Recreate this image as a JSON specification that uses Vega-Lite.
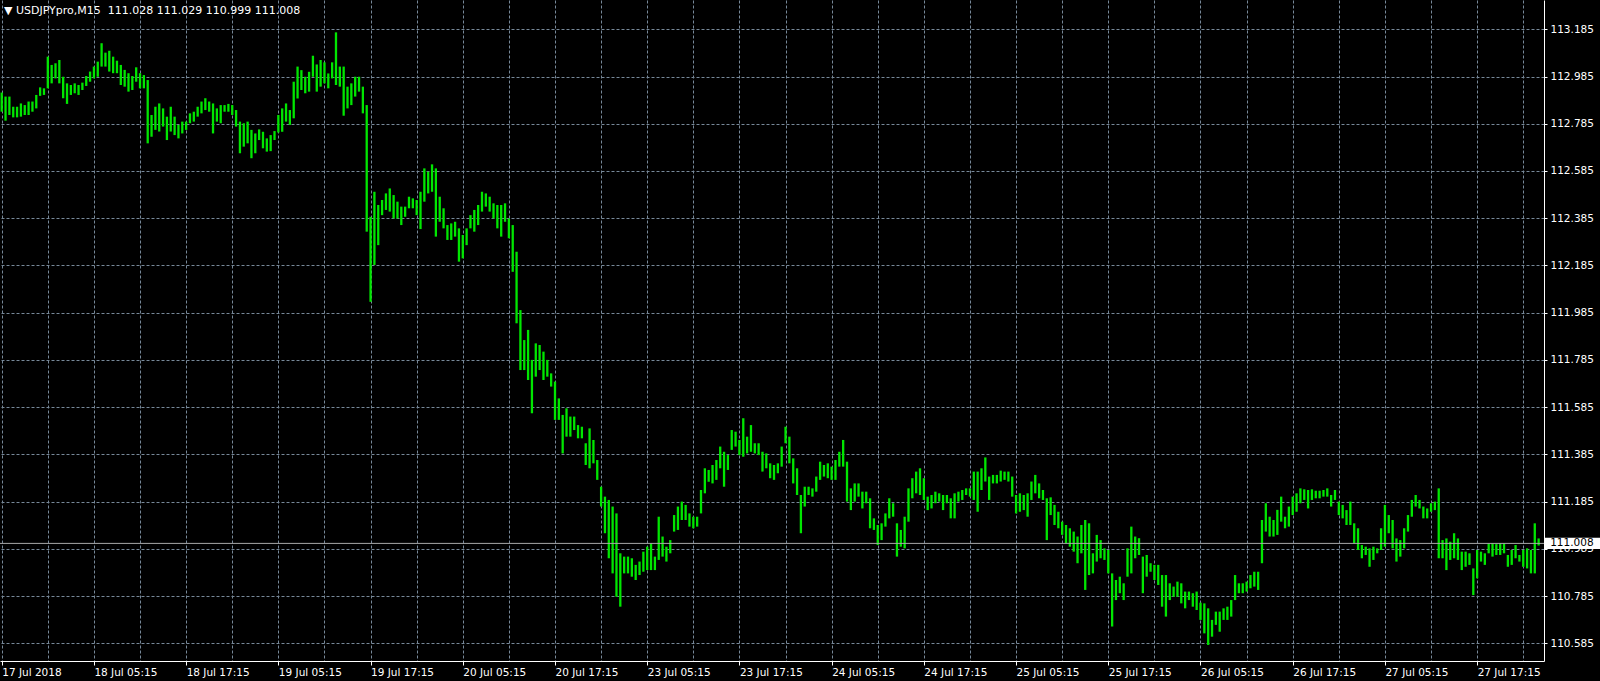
{
"$schema": "https://vega.github.io/schema/vega-lite/v6.json",
"width": 1544, "height": 661,
"autosize": {"type": "none"},
"padding": {"left": 0, "top": 0, "right": 56, "bottom": 20},
"background": "#000000",
"config": {"view": {"stroke": null}, "font": "DejaVu Sans"},
"layer": [
{"data": {"values": [
{"i":0,"h":112.917,"l":112.836},{"i":2,"h":112.900,"l":112.798},{"i":4,"h":112.900,"l":112.822},{"i":6,"h":112.857,"l":112.812},{"i":8,"h":112.857,"l":112.812},{"i":10,"h":112.871,"l":112.815},{"i":12,"h":112.864,"l":112.822},{"i":14,"h":112.879,"l":112.822},{"i":16,"h":112.879,"l":112.836},{"i":18,"h":112.907,"l":112.850},
{"i":20,"h":112.939,"l":112.903},{"i":22,"h":112.935,"l":112.907},{"i":24,"h":113.069,"l":112.935},{"i":26,"h":113.034,"l":112.956},{"i":28,"h":113.041,"l":112.977},{"i":30,"h":113.055,"l":112.956},{"i":32,"h":112.984,"l":112.893},{"i":34,"h":112.956,"l":112.869},{"i":36,"h":112.949,"l":112.907},{"i":38,"h":112.956,"l":112.914},
{"i":40,"h":112.949,"l":112.907},{"i":42,"h":112.959,"l":112.928},{"i":44,"h":112.987,"l":112.945},{"i":46,"h":113.006,"l":112.963},{"i":48,"h":113.027,"l":112.977},{"i":50,"h":113.048,"l":112.984},{"i":52,"h":113.126,"l":113.027},{"i":54,"h":113.086,"l":113.027},{"i":56,"h":113.094,"l":113.006},{"i":58,"h":113.069,"l":112.999},
{"i":60,"h":113.052,"l":112.999},{"i":62,"h":113.034,"l":112.949},{"i":64,"h":113.013,"l":112.942},{"i":66,"h":112.999,"l":112.921},{"i":68,"h":112.987,"l":112.928},{"i":70,"h":113.024,"l":112.963},{"i":72,"h":112.999,"l":112.935},{"i":74,"h":112.991,"l":112.935},{"i":76,"h":112.970,"l":112.702},{"i":78,"h":112.822,"l":112.730},
{"i":80,"h":112.857,"l":112.759},{"i":82,"h":112.871,"l":112.752},{"i":84,"h":112.850,"l":112.773},{"i":86,"h":112.815,"l":112.716},{"i":88,"h":112.857,"l":112.752},{"i":90,"h":112.815,"l":112.737},{"i":92,"h":112.780,"l":112.723},{"i":94,"h":112.794,"l":112.744},{"i":96,"h":112.794,"l":112.759},{"i":98,"h":112.829,"l":112.787},
{"i":100,"h":112.836,"l":112.794},{"i":102,"h":112.857,"l":112.815},{"i":104,"h":112.879,"l":112.829},{"i":106,"h":112.893,"l":112.843},{"i":108,"h":112.879,"l":112.836},{"i":110,"h":112.871,"l":112.744},{"i":112,"h":112.850,"l":112.794},{"i":114,"h":112.864,"l":112.787},{"i":116,"h":112.864,"l":112.836},{"i":118,"h":112.869,"l":112.836},
{"i":120,"h":112.864,"l":112.822},{"i":122,"h":112.843,"l":112.773},{"i":124,"h":112.794,"l":112.660},{"i":126,"h":112.787,"l":112.688},{"i":128,"h":112.794,"l":112.702},{"i":130,"h":112.759,"l":112.639},{"i":132,"h":112.744,"l":112.660},{"i":134,"h":112.761,"l":112.716},{"i":136,"h":112.751,"l":112.681},{"i":138,"h":112.723,"l":112.667},
{"i":140,"h":112.737,"l":112.669},{"i":142,"h":112.754,"l":112.716},{"i":144,"h":112.822,"l":112.748},{"i":146,"h":112.850,"l":112.751},{"i":148,"h":112.871,"l":112.794},{"i":150,"h":112.843,"l":112.780},{"i":152,"h":112.963,"l":112.808},{"i":154,"h":113.027,"l":112.892},{"i":156,"h":113.012,"l":112.928},{"i":158,"h":112.984,"l":112.914},
{"i":160,"h":113.005,"l":112.921},{"i":162,"h":113.073,"l":112.984},{"i":164,"h":113.036,"l":112.921},{"i":166,"h":113.055,"l":112.942},{"i":168,"h":113.045,"l":112.956},{"i":170,"h":112.998,"l":112.935},{"i":172,"h":113.045,"l":112.977},{"i":174,"h":113.172,"l":112.949},{"i":176,"h":113.027,"l":112.942},{"i":178,"h":113.027,"l":112.819},
{"i":180,"h":112.942,"l":112.850},{"i":182,"h":112.956,"l":112.864},{"i":184,"h":112.984,"l":112.900},{"i":186,"h":112.984,"l":112.921},{"i":188,"h":112.942,"l":112.829},{"i":190,"h":112.864,"l":112.328},{"i":192,"h":112.391,"l":112.031},{"i":194,"h":112.497,"l":112.187},{"i":196,"h":112.441,"l":112.271},{"i":198,"h":112.462,"l":112.398},
{"i":200,"h":112.490,"l":112.420},{"i":202,"h":112.511,"l":112.413},{"i":204,"h":112.483,"l":112.384},{"i":206,"h":112.455,"l":112.384},{"i":208,"h":112.434,"l":112.356},{"i":210,"h":112.434,"l":112.391},{"i":212,"h":112.476,"l":112.427},{"i":214,"h":112.469,"l":112.427},{"i":216,"h":112.462,"l":112.398},{"i":218,"h":112.497,"l":112.339},
{"i":220,"h":112.596,"l":112.455},{"i":222,"h":112.582,"l":112.490},{"i":224,"h":112.613,"l":112.497},{"i":226,"h":112.596,"l":112.307},{"i":228,"h":112.476,"l":112.370},{"i":230,"h":112.427,"l":112.342},{"i":232,"h":112.356,"l":112.293},{"i":234,"h":112.363,"l":112.293},{"i":236,"h":112.370,"l":112.307},{"i":238,"h":112.342,"l":112.201},
{"i":240,"h":112.314,"l":112.215},{"i":242,"h":112.342,"l":112.271},{"i":244,"h":112.398,"l":112.342},{"i":246,"h":112.420,"l":112.328},{"i":248,"h":112.441,"l":112.356},{"i":250,"h":112.497,"l":112.413},{"i":252,"h":112.490,"l":112.434},{"i":254,"h":112.476,"l":112.413},{"i":256,"h":112.448,"l":112.384},{"i":258,"h":112.441,"l":112.342},
{"i":260,"h":112.441,"l":112.307},{"i":262,"h":112.448,"l":112.370},{"i":264,"h":112.384,"l":112.300},{"i":266,"h":112.356,"l":112.158},{"i":268,"h":112.243,"l":111.940},{"i":270,"h":111.996,"l":111.742},{"i":272,"h":111.869,"l":111.742},{"i":274,"h":111.912,"l":111.700},{"i":276,"h":111.785,"l":111.559},{"i":278,"h":111.855,"l":111.714},
{"i":280,"h":111.848,"l":111.742},{"i":282,"h":111.820,"l":111.700},{"i":284,"h":111.785,"l":111.714},{"i":286,"h":111.728,"l":111.672},{"i":288,"h":111.693,"l":111.531},{"i":290,"h":111.622,"l":111.531},{"i":292,"h":111.552,"l":111.389},{"i":294,"h":111.580,"l":111.460},{"i":296,"h":111.545,"l":111.460},{"i":298,"h":111.545,"l":111.488},
{"i":300,"h":111.509,"l":111.453},{"i":302,"h":111.502,"l":111.453},{"i":304,"h":111.432,"l":111.340},{"i":306,"h":111.495,"l":111.326},{"i":308,"h":111.446,"l":111.347},{"i":310,"h":111.361,"l":111.277},{"i":312,"h":111.248,"l":111.164},{"i":314,"h":111.206,"l":111.051},{"i":316,"h":111.192,"l":110.945},{"i":318,"h":111.164,"l":110.881},
{"i":320,"h":111.135,"l":110.782},{"i":322,"h":110.966,"l":110.740},{"i":324,"h":110.952,"l":110.881},{"i":326,"h":110.952,"l":110.881},{"i":328,"h":110.945,"l":110.867},{"i":330,"h":110.917,"l":110.853},{"i":332,"h":110.931,"l":110.874},{"i":334,"h":110.973,"l":110.888},{"i":336,"h":110.994,"l":110.895},{"i":338,"h":111.008,"l":110.895},
{"i":340,"h":110.952,"l":110.895},{"i":342,"h":111.121,"l":110.938},{"i":344,"h":111.037,"l":110.952},{"i":346,"h":110.994,"l":110.931},{"i":348,"h":111.022,"l":110.966},{"i":350,"h":111.128,"l":111.058},{"i":352,"h":111.164,"l":111.065},{"i":354,"h":111.185,"l":111.107},{"i":356,"h":111.171,"l":111.107},{"i":358,"h":111.135,"l":111.079},
{"i":360,"h":111.121,"l":111.072},{"i":362,"h":111.121,"l":111.079},{"i":364,"h":111.234,"l":111.135},{"i":366,"h":111.326,"l":111.220},{"i":368,"h":111.319,"l":111.269},{"i":370,"h":111.340,"l":111.262},{"i":372,"h":111.361,"l":111.277},{"i":374,"h":111.418,"l":111.326},{"i":376,"h":111.396,"l":111.248},{"i":378,"h":111.382,"l":111.319},
{"i":380,"h":111.488,"l":111.404},{"i":382,"h":111.481,"l":111.418},{"i":384,"h":111.446,"l":111.382},{"i":386,"h":111.538,"l":111.375},{"i":388,"h":111.460,"l":111.389},{"i":390,"h":111.509,"l":111.396},{"i":392,"h":111.432,"l":111.389},{"i":394,"h":111.432,"l":111.382},{"i":396,"h":111.396,"l":111.312},{"i":398,"h":111.389,"l":111.326},
{"i":400,"h":111.347,"l":111.284},{"i":402,"h":111.340,"l":111.277},{"i":404,"h":111.347,"l":111.305},{"i":406,"h":111.418,"l":111.333},{"i":408,"h":111.502,"l":111.432},{"i":410,"h":111.460,"l":111.347},{"i":412,"h":111.368,"l":111.262},{"i":414,"h":111.326,"l":111.213},{"i":416,"h":111.213,"l":111.051},{"i":418,"h":111.248,"l":111.164},
{"i":420,"h":111.248,"l":111.213},{"i":422,"h":111.241,"l":111.206},{"i":424,"h":111.291,"l":111.227},{"i":426,"h":111.354,"l":111.277},{"i":428,"h":111.340,"l":111.291},{"i":430,"h":111.347,"l":111.284},{"i":432,"h":111.333,"l":111.277},{"i":434,"h":111.361,"l":111.277},{"i":436,"h":111.396,"l":111.333},{"i":438,"h":111.446,"l":111.333},
{"i":440,"h":111.354,"l":111.185},{"i":442,"h":111.241,"l":111.149},{"i":444,"h":111.262,"l":111.185},{"i":446,"h":111.262,"l":111.206},{"i":448,"h":111.227,"l":111.156},{"i":450,"h":111.227,"l":111.178},{"i":452,"h":111.199,"l":111.072},{"i":454,"h":111.114,"l":111.065},{"i":456,"h":111.086,"l":111.001},{"i":458,"h":111.093,"l":111.022},
{"i":460,"h":111.135,"l":111.079},{"i":462,"h":111.199,"l":111.114},{"i":464,"h":111.178,"l":111.121},{"i":466,"h":111.093,"l":110.952},{"i":468,"h":111.065,"l":110.994},{"i":470,"h":111.121,"l":110.987},{"i":472,"h":111.241,"l":111.100},{"i":474,"h":111.284,"l":111.199},{"i":476,"h":111.312,"l":111.220},{"i":478,"h":111.326,"l":111.213},
{"i":480,"h":111.284,"l":111.192},{"i":482,"h":111.206,"l":111.149},{"i":484,"h":111.213,"l":111.156},{"i":486,"h":111.227,"l":111.178},{"i":488,"h":111.220,"l":111.185},{"i":490,"h":111.213,"l":111.149},{"i":492,"h":111.213,"l":111.178},{"i":494,"h":111.199,"l":111.114},{"i":496,"h":111.220,"l":111.114},{"i":498,"h":111.227,"l":111.185},
{"i":500,"h":111.234,"l":111.192},{"i":502,"h":111.241,"l":111.213},{"i":504,"h":111.241,"l":111.206},{"i":506,"h":111.312,"l":111.192},{"i":508,"h":111.312,"l":111.142},{"i":510,"h":111.326,"l":111.234},{"i":512,"h":111.372,"l":111.270},{"i":514,"h":111.291,"l":111.192},{"i":516,"h":111.298,"l":111.262},{"i":518,"h":111.298,"l":111.262},
{"i":520,"h":111.316,"l":111.270},{"i":522,"h":111.312,"l":111.277},{"i":524,"h":111.312,"l":111.270},{"i":526,"h":111.291,"l":111.206},{"i":528,"h":111.213,"l":111.135},{"i":530,"h":111.220,"l":111.142},{"i":532,"h":111.213,"l":111.149},{"i":534,"h":111.220,"l":111.121},{"i":536,"h":111.270,"l":111.192},{"i":538,"h":111.298,"l":111.220},
{"i":540,"h":111.262,"l":111.199},{"i":542,"h":111.234,"l":111.192},{"i":544,"h":111.199,"l":111.022},{"i":546,"h":111.203,"l":111.128},{"i":548,"h":111.171,"l":111.086},{"i":550,"h":111.142,"l":111.072},{"i":552,"h":111.100,"l":111.044},{"i":554,"h":111.086,"l":111.008},{"i":556,"h":111.072,"l":110.994},{"i":558,"h":111.058,"l":110.973},
{"i":560,"h":111.037,"l":110.924},{"i":562,"h":111.086,"l":110.966},{"i":564,"h":111.107,"l":110.811},{"i":566,"h":111.093,"l":110.874},{"i":568,"h":110.966,"l":110.881},{"i":570,"h":111.044,"l":110.931},{"i":572,"h":111.022,"l":110.945},{"i":574,"h":110.987,"l":110.938},{"i":576,"h":110.980,"l":110.881},{"i":578,"h":110.881,"l":110.656},
{"i":580,"h":110.853,"l":110.768},{"i":582,"h":110.867,"l":110.797},{"i":584,"h":110.839,"l":110.768},{"i":586,"h":110.987,"l":110.867},{"i":588,"h":111.079,"l":110.881},{"i":590,"h":111.037,"l":110.945},{"i":592,"h":111.030,"l":110.959},{"i":594,"h":110.952,"l":110.797},{"i":596,"h":110.959,"l":110.867},{"i":598,"h":110.924,"l":110.888},
{"i":600,"h":110.917,"l":110.853},{"i":602,"h":110.917,"l":110.832},{"i":604,"h":110.874,"l":110.740},{"i":606,"h":110.874,"l":110.698},{"i":608,"h":110.839,"l":110.768},{"i":610,"h":110.825,"l":110.782},{"i":612,"h":110.846,"l":110.782},{"i":614,"h":110.839,"l":110.754},{"i":616,"h":110.804,"l":110.733},{"i":618,"h":110.804,"l":110.768},
{"i":620,"h":110.797,"l":110.740},{"i":622,"h":110.804,"l":110.726},{"i":624,"h":110.757,"l":110.684},{"i":626,"h":110.754,"l":110.627},{"i":628,"h":110.733,"l":110.578},{"i":630,"h":110.684,"l":110.613},{"i":632,"h":110.719,"l":110.663},{"i":634,"h":110.719,"l":110.634},{"i":636,"h":110.733,"l":110.684},{"i":638,"h":110.740,"l":110.684},
{"i":640,"h":110.768,"l":110.698},{"i":642,"h":110.874,"l":110.768},{"i":644,"h":110.839,"l":110.797},{"i":646,"h":110.839,"l":110.797},{"i":648,"h":110.846,"l":110.804},{"i":650,"h":110.874,"l":110.818},{"i":652,"h":110.888,"l":110.825},{"i":654,"h":110.888,"l":110.811},{"i":656,"h":111.107,"l":110.924},{"i":658,"h":111.178,"l":111.058},
{"i":660,"h":111.121,"l":111.037},{"i":662,"h":111.107,"l":111.037},{"i":664,"h":111.150,"l":111.044},{"i":666,"h":111.206,"l":111.100},{"i":668,"h":111.121,"l":111.072},{"i":670,"h":111.164,"l":111.079},{"i":672,"h":111.206,"l":111.128},{"i":674,"h":111.220,"l":111.142},{"i":676,"h":111.241,"l":111.178},{"i":678,"h":111.237,"l":111.192},
{"i":680,"h":111.234,"l":111.156},{"i":682,"h":111.237,"l":111.192},{"i":684,"h":111.231,"l":111.199},{"i":686,"h":111.231,"l":111.199},{"i":688,"h":111.234,"l":111.206},{"i":690,"h":111.241,"l":111.206},{"i":692,"h":111.213,"l":111.164},{"i":694,"h":111.234,"l":111.192},{"i":696,"h":111.185,"l":111.128},{"i":698,"h":111.171,"l":111.114},
{"i":700,"h":111.149,"l":111.086},{"i":702,"h":111.185,"l":111.086},{"i":704,"h":111.093,"l":111.008},{"i":706,"h":111.072,"l":110.980},{"i":708,"h":111.001,"l":110.945},{"i":710,"h":110.994,"l":110.959},{"i":712,"h":110.987,"l":110.909},{"i":714,"h":110.994,"l":110.938},{"i":716,"h":110.987,"l":110.966},{"i":718,"h":111.072,"l":110.980},
{"i":720,"h":111.171,"l":110.994},{"i":722,"h":111.128,"l":111.051},{"i":724,"h":111.107,"l":110.987},{"i":726,"h":111.029,"l":110.931},{"i":728,"h":111.022,"l":110.952},{"i":730,"h":111.072,"l":110.987},{"i":732,"h":111.128,"l":111.058},{"i":734,"h":111.192,"l":111.121},{"i":736,"h":111.213,"l":111.164},{"i":738,"h":111.192,"l":111.156},
{"i":740,"h":111.164,"l":111.114},{"i":742,"h":111.156,"l":111.114},{"i":744,"h":111.178,"l":111.142},{"i":746,"h":111.185,"l":111.149},{"i":748,"h":111.241,"l":110.945},{"i":750,"h":111.022,"l":110.945},{"i":752,"h":111.029,"l":110.895},{"i":754,"h":111.015,"l":110.938},{"i":756,"h":111.051,"l":110.945},{"i":758,"h":111.029,"l":110.938},
{"i":760,"h":110.973,"l":110.895},{"i":762,"h":110.973,"l":110.909},{"i":764,"h":110.966,"l":110.917},{"i":766,"h":110.902,"l":110.789},{"i":768,"h":110.980,"l":110.860},{"i":770,"h":110.973,"l":110.931},{"i":772,"h":110.966,"l":110.917},{"i":774,"h":111.008,"l":110.966},{"i":776,"h":111.008,"l":110.952},{"i":778,"h":111.005,"l":110.959},
{"i":780,"h":111.008,"l":110.959},{"i":782,"h":111.008,"l":110.966},{"i":784,"h":110.959,"l":110.909},{"i":786,"h":110.980,"l":110.917},{"i":788,"h":111.001,"l":110.945},{"i":790,"h":110.959,"l":110.931},{"i":792,"h":110.980,"l":110.909},{"i":794,"h":110.987,"l":110.902},{"i":796,"h":110.980,"l":110.881},{"i":798,"h":111.093,"l":110.881},
{"i":800,"h":111.029,"l":110.999}
]},
"mark": {"type": "rule", "color": "#00e600", "strokeWidth": 2.3},
"encoding": {
"x": {"field": "i", "type": "quantitative", "scale": {"domain": [-0.885, 802.8], "nice": false, "zero": false},
"axis": {"title": null, "values": [0,24,48,72,96,120,144,168,192,216,240,264,288,312,336,360,384,408,432,456,480,504,528,552,576,600,624,648,672,696,720,744,768,792],
"labelExpr": "datum.value % 48 == 0 ? ['17 Jul 2018','18 Jul 05:15','18 Jul 17:15','19 Jul 05:15','19 Jul 17:15','20 Jul 05:15','20 Jul 17:15','23 Jul 05:15','23 Jul 17:15','24 Jul 05:15','24 Jul 17:15','25 Jul 05:15','25 Jul 17:15','26 Jul 05:15','26 Jul 17:15','27 Jul 05:15','27 Jul 17:15'][datum.value / 48] : ''",
"grid": true, "gridColor": "#778899", "gridDash": [3, 2], "gridWidth": 1,
"domainColor": "#ffffff", "domainWidth": 1, "tickColor": "#ffffff", "tickSize": 4,
"tickOpacity": {"condition": {"test": "datum.value % 48 == 0", "value": 1}, "value": 0},
"labelColor": "#ffffff", "labelFont": "DejaVu Sans", "labelFontSize": 10.5, "labelAlign": "left", "labelBaseline": "top", "labelPadding": 2, "labelOverlap": false, "labelFlush": false}},
"y": {"field": "l", "type": "quantitative", "scale": {"domain": [110.51, 113.309], "nice": false, "zero": false},
"axis": {"title": null, "orient": "right", "values": [110.585,110.785,110.985,111.185,111.385,111.585,111.785,111.985,112.185,112.385,112.585,112.785,112.985,113.185], "format": ".3f",
"grid": true, "gridColor": "#778899", "gridDash": [3, 2], "gridWidth": 1,
"domainColor": "#ffffff", "domainWidth": 1, "tickColor": "#ffffff", "tickSize": 3,
"labelColor": "#ffffff", "labelFont": "DejaVu Sans", "labelFontSize": 10.5, "labelAlign": "left", "labelBaseline": "middle", "labelPadding": 3, "labelOverlap": false, "labelFlush": false}},
"y2": {"field": "h"}
}},
{"data": {"values": [{}]}, "mark": {"type": "rule", "color": "#a8a8a8", "strokeWidth": 1}, "encoding": {"y": {"datum": 111.008}}},
{"data": {"values": [{}]}, "mark": {"type": "rect", "color": "#ffffff"}, "encoding": {"x": {"datum": 803}, "x2": {"datum": 832}, "y": {"datum": 111.032}, "y2": {"datum": 110.984}}},
{"data": {"values": [{}]}, "mark": {"type": "text", "text": "111.008", "color": "#000000", "align": "left", "baseline": "middle", "font": "DejaVu Sans", "fontSize": 10.5}, "encoding": {"x": {"datum": 806}, "y": {"datum": 111.008}}},
{"data": {"values": [{}]}, "mark": {"type": "text", "text": "▼ USDJPYpro,M15\u00a0\u00a0111.028 111.029 110.999 111.008", "color": "#ffffff", "align": "left", "baseline": "middle", "font": "DejaVu Sans", "fontSize": 11}, "encoding": {"x": {"datum": 1.2}, "y": {"datum": 113.2645}}}
]
}
